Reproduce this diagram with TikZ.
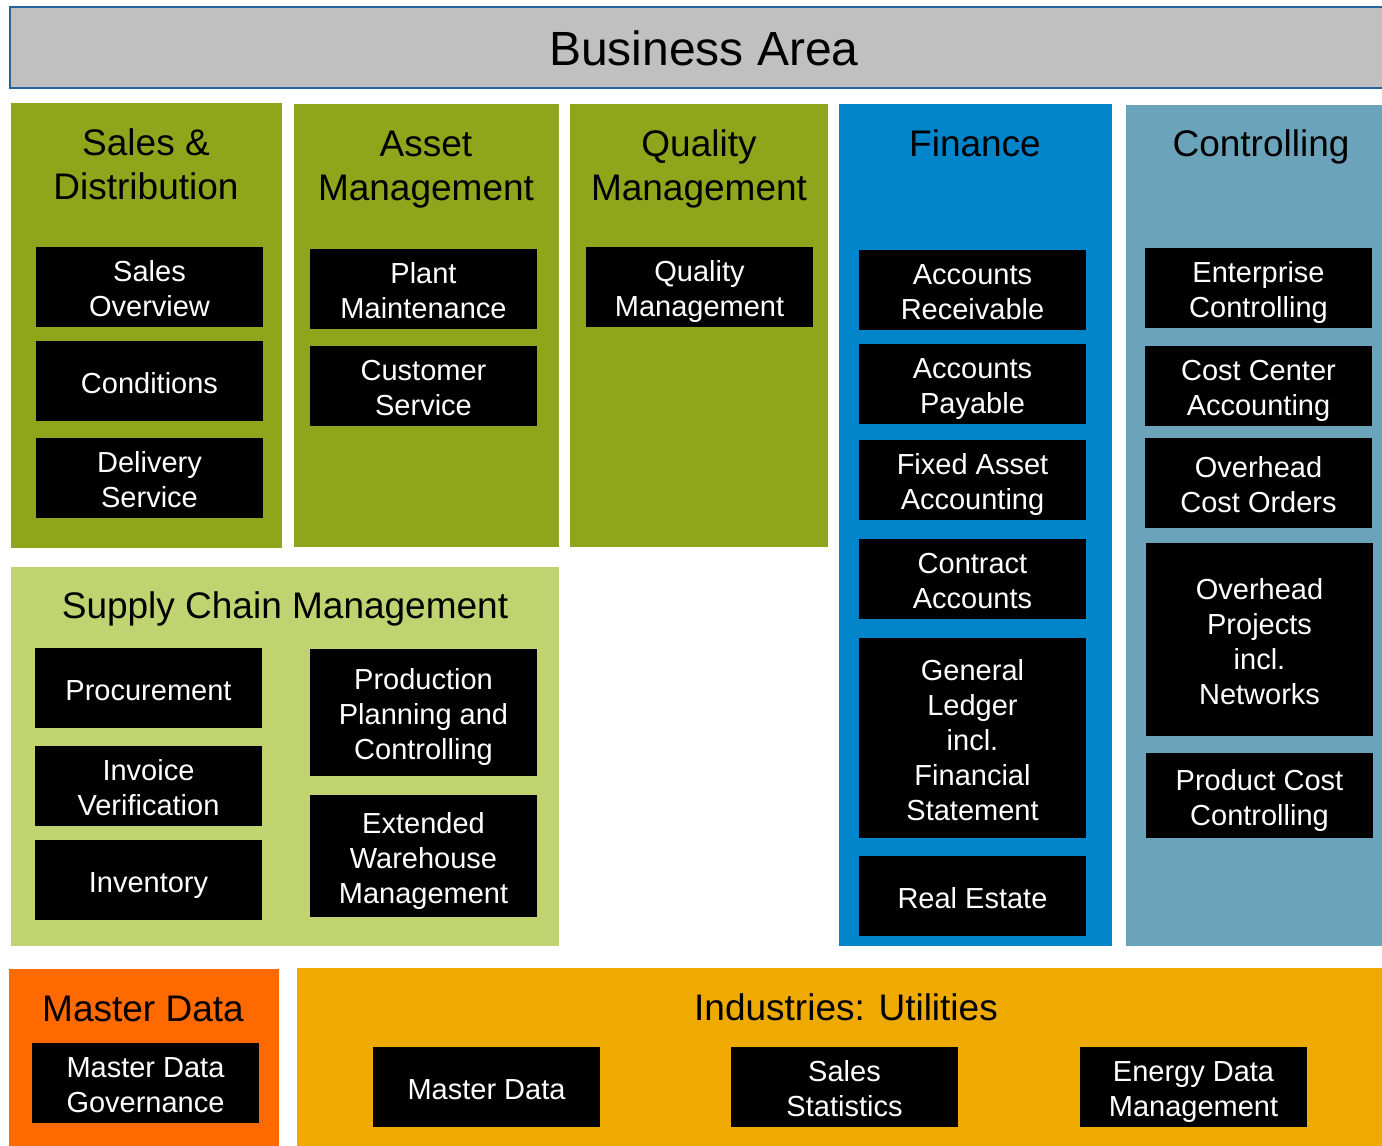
\documentclass[tikz,border=0pt]{standalone}
\usepackage{fontspec}
\setmainfont{Liberation Sans}
\definecolor{hdrgrey}{HTML}{C0C0C0}
\definecolor{hdrline}{HTML}{2465A0}
\definecolor{olive}{HTML}{8FA61C}
\definecolor{lightgreen}{HTML}{C1D270}
\definecolor{finblue}{HTML}{0085CA}
\definecolor{ctrlblue}{HTML}{6BA4BA}
\definecolor{mdorange}{HTML}{FF6A00}
\definecolor{indgold}{HTML}{EEAA00}
\newcommand\rbox[7]{\node[#6, minimum width={#4pt-#2pt}, minimum height={#5pt-#3pt}] (#1) at ({(#2+#4)/2},{(#3+#5)/2}) {#7};}
\newcommand\tbox[7]{\node[#6, minimum width={#4pt-#2pt}, minimum height={#5pt-#3pt}] (#1) at ({(#2+#4)/2},{(#3+#5)/2}) {};
  \node[blktext] at (#1.center) {\strut #7\strut};}
\tikzset{
  panel/.style={rectangle, inner sep=0pt, outer sep=0pt, draw=none},
  blk/.style={rectangle, inner sep=0pt, outer sep=0pt, fill=black},
  blktext/.style={inner sep=0pt, yshift=-5pt, text=white, align=center, font=\fontsize{29}{35}\selectfont},
  ttl/.style={inner sep=0pt, yshift=-4.4pt, align=center, text=black, font=\fontsize{37}{44}\selectfont},
}
\begin{document}
\begin{tikzpicture}[x=1pt,y=-1pt]
\useasboundingbox (0,0) rectangle (1382,1146);
\fill[white] (0,0) rectangle (1382,1146);
% header
\node[rectangle, inner sep=0pt, outer sep=0pt, fill=hdrgrey, draw=hdrline, line width=1.5pt, minimum width=1376pt, minimum height=81pt] (hdr) at (698,47.5) {};
\node[inner sep=0pt, font=\fontsize{48}{56}\selectfont] (hdrt) at (704,48) {Business Area};
% panels
\rbox{sd}{11}{103}{282}{548}{panel, fill=olive}{}
\rbox{am}{294}{104}{559}{547}{panel, fill=olive}{}
\rbox{qm}{570}{104}{828}{547}{panel, fill=olive}{}
\rbox{fi}{839}{104}{1112}{946}{panel, fill=finblue}{}
\rbox{co}{1126}{105}{1382}{946}{panel, fill=ctrlblue}{}
\rbox{scm}{11}{567}{559}{946}{panel, fill=lightgreen}{}
\rbox{md}{9}{969}{279}{1146}{panel, fill=mdorange}{}
\rbox{ind}{297}{968}{1382}{1146}{panel, fill=indgold}{}
% titles
\node[ttl] (sdt) at (146,164) {\strut Sales \&\\Distribution\strut};
\node[ttl] (amt) at (426,165) {\strut Asset\\Management\strut};
\node[ttl] (qmt) at (699,165.5) {\strut Quality\\Management\strut};
\node[ttl] (fit) at (975,143) {\strut Finance\strut};
\node[ttl] (cot) at (1261,143) {\strut Controlling\strut};
\node[ttl] (scmt) at (285,605) {\strut Supply Chain Management\strut};
\node[ttl] (mdt) at (143,1008) {\strut Master Data\strut};
\node[ttl] (indt) at (846,1007) {\strut Industries: Utilities\strut};
% sales & distribution
\tbox{b1}{36}{247}{263}{327}{blk}{Sales\\Overview}
\tbox{b2}{36}{341}{263}{421}{blk}{Conditions}
\tbox{b3}{36}{438}{263}{518}{blk}{Delivery\\Service}
% asset management
\tbox{b4}{310}{249}{537}{329}{blk}{Plant\\Maintenance}
\tbox{b5}{310}{346}{537}{426}{blk}{Customer\\Service}
% quality
\tbox{b6}{586}{247}{813}{327}{blk}{Quality\\Management}
% finance
\tbox{b7}{859}{250}{1086}{330}{blk}{Accounts\\Receivable}
\tbox{b8}{859}{344}{1086}{424}{blk}{Accounts\\Payable}
\tbox{b9}{859}{440}{1086}{520}{blk}{Fixed Asset\\Accounting}
\tbox{b10}{859}{539}{1086}{619}{blk}{Contract\\Accounts}
\tbox{b11}{859}{638}{1086}{838}{blk}{General\\Ledger\\incl.\\Financial\\Statement}
\tbox{b12}{859}{856}{1086}{936}{blk}{Real Estate}
% controlling
\tbox{b13}{1145}{248}{1372}{328}{blk}{Enterprise\\Controlling}
\tbox{b14}{1145}{346}{1372}{426}{blk}{Cost Center\\Accounting}
\tbox{b15}{1145}{438}{1372}{528}{blk}{Overhead\\Cost Orders}
\tbox{b16}{1146}{543}{1373}{736}{blk}{Overhead\\Projects\\incl.\\Networks}
\tbox{b17}{1146}{753}{1373}{838}{blk}{Product Cost\\Controlling}
% supply chain
\tbox{b18}{35}{648}{262}{728}{blk}{Procurement}
\tbox{b19}{35}{746}{262}{826}{blk}{Invoice\\Verification}
\tbox{b20}{35}{840}{262}{920}{blk}{Inventory}
\tbox{b21}{310}{649}{537}{776}{blk}{Production\\Planning and\\Controlling}
\tbox{b22}{310}{795}{537}{917}{blk}{Extended\\Warehouse\\Management}
% master data
\tbox{b23}{32}{1043}{259}{1123}{blk}{Master Data\\Governance}
% industries
\tbox{b24}{373}{1047}{600}{1127}{blk}{Master Data}
\tbox{b25}{731}{1047}{958}{1127}{blk}{Sales\\Statistics}
\tbox{b26}{1080}{1047}{1307}{1127}{blk}{Energy Data\\Management}
\end{tikzpicture}
\end{document}
